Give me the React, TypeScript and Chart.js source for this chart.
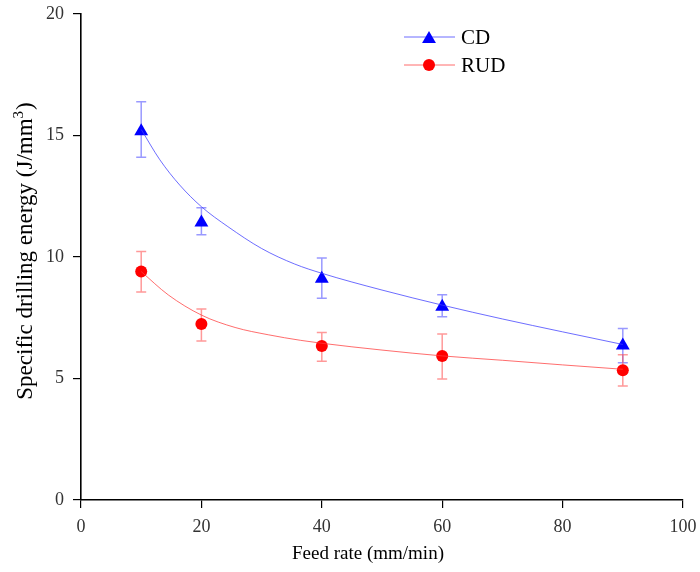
import React, { useEffect, useRef } from "react";
import { Chart, registerables } from "chart.js";

Chart.register(...registerables);

const feedRates = [10, 20, 40, 60, 90];
const cdMean = [15.17, 11.42, 9.1, 7.95, 6.36];
const cdUpper = [16.39, 12.03, 9.96, 8.45, 7.06];
const cdLower = [14.1, 10.92, 8.3, 7.54, 5.65];
const rudMean = [9.4, 7.24, 6.34, 5.93, 5.34];
const rudUpper = [10.23, 7.86, 6.89, 6.83, 5.98];
const rudLower = [8.56, 6.54, 5.71, 4.98, 4.69];

const cdFitX = [10, 13.1, 16.4, 20, 24.4, 30, 35.5, 40, 50, 60, 70, 80, 90];
const cdFit = [15.25, 14.0, 12.96, 12.07, 11.25, 10.35, 9.71, 9.33, 8.64, 8.02, 7.45, 6.92, 6.4];
const rudFitX = [10, 14.5, 20, 25.6, 31.1, 36.5, 40, 50, 60, 70, 80, 90];
const rudFit = [9.4, 8.44, 7.61, 7.1, 6.8, 6.57, 6.45, 6.17, 5.93, 5.75, 5.56, 5.38];

const legendLabels = ["CD", "RUD"];
const xTitle = "Feed rate (mm/min)";
const yTitleMain = "Specific drilling energy (J/mm";
const yTitleSup = "3";
const yTitleEnd = ")";

const FONT = "'Liberation Serif', 'Times New Roman', serif";

const BLUE = "#0000ff";
const RED = "#ff0000";
const BLUE_LINE = "rgba(60,60,255,0.75)";
const RED_LINE = "rgba(255,60,60,0.75)";
const BLUE_ERR = "rgba(70,70,255,0.55)";
const RED_ERR = "rgba(255,70,70,0.55)";

const errorBarPlugin = {
  id: "errorBars",
  beforeDatasetsDraw(chart: any) {
    const ctx = chart.ctx;
    const xs = chart.scales.x;
    const ys = chart.scales.y;
    const groups = [
      { up: cdUpper, lo: cdLower, color: BLUE_ERR },
      { up: rudUpper, lo: rudLower, color: RED_ERR },
    ];
    ctx.save();
    groups.forEach((g) => {
      ctx.strokeStyle = g.color;
      ctx.lineWidth = 1.5;
      feedRates.forEach((fx, i) => {
        const px = xs.getPixelForValue(fx);
        const pu = ys.getPixelForValue(g.up[i]);
        const pl = ys.getPixelForValue(g.lo[i]);
        ctx.beginPath();
        ctx.moveTo(px, pu);
        ctx.lineTo(px, pl);
        ctx.moveTo(px - 5, pu);
        ctx.lineTo(px + 5, pu);
        ctx.moveTo(px - 5, pl);
        ctx.lineTo(px + 5, pl);
        ctx.stroke();
      });
    });
    ctx.restore();
  },
};

const titlesPlugin = {
  id: "titles",
  afterDraw(chart: any) {
    const ctx = chart.ctx;
    ctx.save();
    ctx.fillStyle = "#000";
    // x title
    ctx.font = `19px ${FONT}`;
    ctx.textAlign = "center";
    ctx.textBaseline = "middle";
    ctx.fillText(xTitle, 368, 554);
    // y title (rotated, with superscript)
    ctx.translate(32, 251);
    ctx.rotate(-Math.PI / 2);
    ctx.textAlign = "left";
    ctx.textBaseline = "alphabetic";
    ctx.font = `23px ${FONT}`;
    const wMain = ctx.measureText(yTitleMain).width;
    const wEnd = ctx.measureText(yTitleEnd).width;
    ctx.font = `15px ${FONT}`;
    const wSup = ctx.measureText(yTitleSup).width;
    const total = wMain + wSup + wEnd + 1;
    let x = -total / 2;
    ctx.font = `23px ${FONT}`;
    ctx.fillText(yTitleMain, x, 0);
    x += wMain;
    ctx.font = `15px ${FONT}`;
    ctx.fillText(yTitleSup, x, -9);
    x += wSup + 1;
    ctx.font = `23px ${FONT}`;
    ctx.fillText(yTitleEnd, x, 0);
    ctx.restore();
  },
};

const legendPlugin = {
  id: "customLegend",
  afterDraw(chart: any) {
    const ctx = chart.ctx;
    const items = [
      { label: legendLabels[0], line: BLUE_LINE, color: BLUE, tri: true },
      { label: legendLabels[1], line: RED_LINE, color: RED, tri: false },
    ];
    ctx.save();
    items.forEach((it, i) => {
      const y = 37 + i * 28;
      ctx.strokeStyle = it.line;
      ctx.lineWidth = 1;
      ctx.beginPath();
      ctx.moveTo(404, y);
      ctx.lineTo(455, y);
      ctx.stroke();
      ctx.fillStyle = it.color;
      ctx.beginPath();
      if (it.tri) {
        const r = 8;
        const cy = y + 2;
        ctx.moveTo(429, cy - r);
        ctx.lineTo(429 + r * Math.sin(Math.PI * 2 / 3), cy + r / 2);
        ctx.lineTo(429 - r * Math.sin(Math.PI * 2 / 3), cy + r / 2);
        ctx.closePath();
      } else {
        ctx.arc(429, y, 6, 0, Math.PI * 2);
      }
      ctx.fill();
      ctx.fillStyle = "#000";
      ctx.font = `21px ${FONT}`;
      ctx.textBaseline = "middle";
      ctx.textAlign = "left";
      ctx.fillText(it.label, 461, y + 1);
    });
    ctx.restore();
  },
};

export default function App() {
  const ref = useRef<HTMLCanvasElement | null>(null);
  useEffect(() => {
    if (!ref.current) return;
    const chart = new Chart(ref.current, {
      type: "line",
      data: {
        datasets: [
          {
            label: "CD fit",
            data: cdFitX.map((x, i) => ({ x, y: cdFit[i] })),
            borderColor: BLUE_LINE,
            borderWidth: 1,
            pointRadius: 0,
            cubicInterpolationMode: "monotone",
            fill: false,
          },
          {
            label: "RUD fit",
            data: rudFitX.map((x, i) => ({ x, y: rudFit[i] })),
            borderColor: RED_LINE,
            borderWidth: 1,
            pointRadius: 0,
            cubicInterpolationMode: "monotone",
            fill: false,
          },
          {
            label: legendLabels[0],
            data: feedRates.map((x, i) => ({ x, y: cdMean[i] })),
            showLine: false,
            pointStyle: "triangle",
            pointRadius: 8,
            pointBackgroundColor: BLUE,
            pointBorderColor: BLUE,
            pointBorderWidth: 0,
          },
          {
            label: legendLabels[1],
            data: feedRates.map((x, i) => ({ x, y: rudMean[i] })),
            showLine: false,
            pointStyle: "circle",
            pointRadius: 6,
            pointBackgroundColor: RED,
            pointBorderColor: RED,
            pointBorderWidth: 0,
          },
        ],
      },
      options: {
        animation: false,
        responsive: false,
        maintainAspectRatio: false,
        layout: { padding: { top: 14, right: 17, left: 0, bottom: 0 } },
        plugins: {
          legend: { display: false },
          tooltip: { enabled: false },
        },
        scales: {
          x: {
            type: "linear",
            min: 0,
            max: 100,
            ticks: { stepSize: 20, color: "#333", font: { family: FONT, size: 18 }, padding: 8, maxRotation: 0 },
            grid: { display: true, drawOnChartArea: false, drawTicks: true, tickLength: 8, color: "#000", lineWidth: 1.2 },
            border: { display: true, color: "#000", width: 1.6 },
            title: { display: false },
            afterFit: (s: any) => {
              s.height = 72;
              s.paddingLeft = 0;
              s.paddingRight = 0;
            },
          },
          y: {
            type: "linear",
            min: 0,
            max: 20,
            ticks: { stepSize: 5, color: "#333", font: { family: FONT, size: 18 }, padding: 9 },
            grid: { display: true, drawOnChartArea: false, drawTicks: true, tickLength: 8, color: "#000", lineWidth: 1.2 },
            border: { display: true, color: "#000", width: 1.6 },
            title: { display: false },
            afterFit: (s: any) => {
              s.width = 81;
              s.paddingTop = 0;
              s.paddingBottom = 0;
            },
          },
        },
      },
      plugins: [errorBarPlugin, legendPlugin, titlesPlugin],
    } as any);
    return () => chart.destroy();
  }, []);
  return (
    <div style={{ position: "fixed", left: 0, top: 0, width: 700, height: 572, background: "#fff" }}>
      <canvas ref={ref} width={700} height={572} style={{ width: 700, height: 572 }} />
    </div>
  );
}
